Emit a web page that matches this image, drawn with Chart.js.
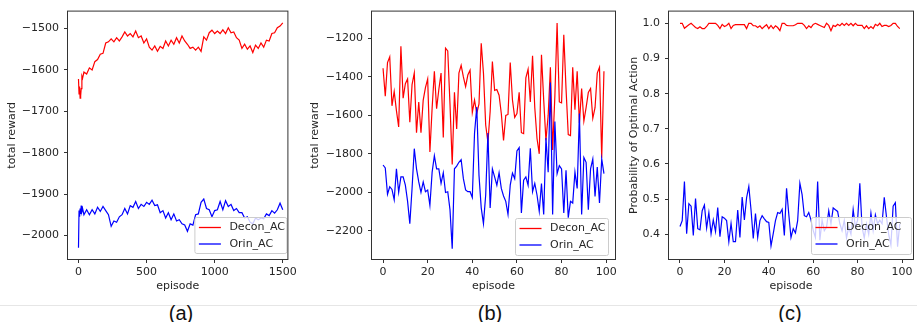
<!DOCTYPE html>
<html>
<head>
<meta charset="utf-8">
<script src="https://cdn.jsdelivr.net/npm/chart.js@4.4.0/dist/chart.umd.min.js"></script>
<style>
  html, body { margin: 0; padding: 0; background: #fff; }
  #wrap { position: relative; width: 917px; height: 322px; overflow: hidden; }
  canvas { position: absolute; top: 0; }
  .sep { position: absolute; left: 0; top: 305px; width: 917px; height: 1px; background: #e6e6e6; }
  .cap { position: absolute; top: 302px; width: 80px; margin-left: -40px; text-align: center;
         font: 20px "Liberation Sans", Arial, sans-serif; line-height: 22px; color: #111; }
</style>
</head>
<body>
<div id="wrap">
  <canvas id="chartA" width="300" height="300" style="left:0px"></canvas>
  <canvas id="chartB" width="317" height="300" style="left:303px"></canvas>
  <canvas id="chartC" width="295" height="300" style="left:622px"></canvas>
  <div class="sep"></div>
  <div class="cap" style="left:181px">(a)</div>
  <div class="cap" style="left:490px">(b)</div>
  <div class="cap" style="left:790px">(c)</div>
</div>
<script>
// ---- data ----
const seriesNames = ['Decon_AC', 'Orin_AC'];

// (a) episodes 0..1500, sampled
const episodesA = [0, 4, 8, 12, 16, 20, 25, 30, 40, 60, 80, 100, 120, 140, 160, 180, 200, 220, 240, 260, 280, 300,
    320, 340, 360, 380, 400, 420, 440, 460, 480, 500, 520, 540, 560, 580, 600, 620, 640, 660, 680, 700, 720, 740,
    760, 780, 800, 820, 840, 860, 880, 900, 920, 940, 960, 980, 1000, 1020, 1040, 1060, 1080, 1100, 1120, 1140,
    1160, 1180, 1200, 1220, 1240, 1260, 1280, 1300, 1320, 1340, 1360, 1380, 1400, 1420, 1440, 1460, 1480, 1500];
const deconA = [-1622, -1658, -1640, -1668, -1662, -1645, -1615, -1620, -1605, -1610, -1595, -1600, -1580, -1575,
    -1562, -1560, -1535, -1532, -1525, -1532, -1522, -1530, -1520, -1508, -1518, -1512, -1520, -1506, -1522, -1518,
    -1535, -1525, -1545, -1552, -1542, -1555, -1543, -1548, -1530, -1542, -1528, -1538, -1522, -1535, -1518, -1530,
    -1538, -1548, -1545, -1552, -1545, -1555, -1520, -1528, -1510, -1504, -1512, -1506, -1512, -1503, -1512, -1498,
    -1510, -1508, -1522, -1528, -1548, -1538, -1550, -1542, -1558, -1540, -1548, -1535, -1545, -1528, -1530, -1512,
    -1510, -1498, -1494, -1486];
const orinA = [-2030, -1940, -1955, -1935, -1948, -1928, -1942, -1935, -1950, -1938, -1950, -1938, -1948, -1932,
    -1942, -1930, -1940, -1950, -1978, -1965, -1968, -1955, -1950, -1935, -1948, -1928, -1932, -1918, -1935, -1925,
    -1930, -1920, -1925, -1915, -1928, -1926, -1945, -1940, -1958, -1945, -1962, -1948, -1965, -1962, -1972, -1975,
    -1990, -1972, -1975, -1950, -1948, -1920, -1912, -1935, -1938, -1955, -1940, -1938, -1918, -1938, -1916, -1930,
    -1925, -1940, -1935, -1945, -1945, -1958, -1955, -1968, -1972, -1958, -1962, -1958, -1960, -1948, -1952, -1940,
    -1946, -1938, -1922, -1938];

// (b) and (c) episodes 0..99
const episodes = [0, 1, 2, 3, 4, 5, 6, 7, 8, 9, 10, 11, 12, 13, 14, 15, 16, 17, 18, 19, 20, 21, 22, 23, 24, 25, 26,
    27, 28, 29, 30, 31, 32, 33, 34, 35, 36, 37, 38, 39, 40, 41, 42, 43, 44, 45, 46, 47, 48, 49, 50, 51, 52, 53, 54,
    55, 56, 57, 58, 59, 60, 61, 62, 63, 64, 65, 66, 67, 68, 69, 70, 71, 72, 73, 74, 75, 76, 77, 78, 79, 80, 81, 82,
    83, 84, 85, 86, 87, 88, 89, 90, 91, 92, 93, 94, 95, 96, 97, 98, 99];
const deconB = [-1355, -1500, -1325, -1295, -1550, -1475, -1575, -1660, -1240, -1510, -1435, -1410, -1635, -1440,
    -1380, -1690, -1530, -1690, -1520, -1455, -1410, -1790, -1560, -1370, -1565, -1465, -1380, -1715, -1250, -1265,
    -1540, -1855, -1480, -1670, -1380, -1340, -1400, -1450, -1390, -1365, -1585, -1520, -1590, -1540, -1225, -1380,
    -1650, -1740, -1580, -1320, -1470, -1465, -1495, -1590, -1730, -1600, -1595, -1325, -1520, -1610, -1590, -1480,
    -1690, -1695, -1405, -1360, -1530, -1290, -1560, -1720, -1800, -1285, -1520, -1730, -1600, -1350, -1780, -1500,
    -1120, -1530, -1535, -1180, -1460, -1700, -1705, -1350, -1570, -1370, -1640, -1460, -1630, -1560, -1480, -1460,
    -1615, -1560, -1380, -1350, -1820, -1370];
const orinB = [-1858, -1873, -2010, -1971, -1985, -2039, -1878, -2000, -1920, -1920, -1963, -2047, -2163, -1980,
    -1773, -1878, -1946, -2000, -1946, -1997, -1988, -2068, -1895, -1810, -1878, -1878, -1954, -1898, -2001, -1997,
    -2090, -2293, -1878, -1864, -1844, -1830, -1929, -1988, -1997, -1997, -2027, -1692, -1556, -1912, -2081, -2163,
    -2014, -1692, -2081, -1878, -1920, -1963, -1898, -1980, -2019, -2047, -2115, -1963, -1900, -1929, -1785, -1768,
    -2107, -1937, -1920, -1963, -1771, -1997, -1954, -2014, -2098, -1954, -2115, -1717, -1895, -1429, -2115, -1632,
    -1903, -1861, -1878, -2107, -1886, -2132, -2047, -2056, -1895, -1980, -1590, -2115, -1819, -1844, -2090, -1878,
    -1827, -2022, -1869, -2056, -1827, -1903];
const deconC = [1.0, 1.0, 0.986, 0.991, 0.996, 1.0, 0.994, 0.988, 0.985, 0.99, 0.985, 0.985, 0.991, 1.0, 1.0, 1.0,
    1.0, 0.994, 0.985, 0.997, 0.991, 0.994, 1.0, 0.985, 0.994, 0.996, 0.996, 0.996, 0.996, 0.996, 0.985, 1.0, 1.0,
    0.993, 0.993, 0.988, 0.993, 0.985, 0.991, 0.996, 0.985, 0.994, 0.985, 0.993, 0.988, 0.979, 1.0, 1.0, 0.994,
    0.993, 0.993, 0.993, 0.996, 1.0, 1.0, 1.0, 0.994, 0.985, 0.993, 0.988, 0.997, 1.0, 0.997, 0.994, 0.991, 0.988,
    1.0, 0.994, 0.979, 0.994, 0.991, 0.997, 0.993, 1.0, 0.994, 1.0, 0.994, 1.0, 0.993, 1.0, 0.994, 0.994, 0.994,
    0.985, 0.993, 0.985, 0.991, 0.985, 0.997, 0.993, 1.0, 0.991, 0.994, 0.994, 0.991, 0.994, 1.0, 1.0, 0.991, 0.985];
const orinC = [0.422, 0.439, 0.55, 0.402, 0.487, 0.48, 0.397, 0.502, 0.416, 0.413, 0.467, 0.483, 0.418, 0.462,
    0.402, 0.441, 0.408, 0.476, 0.393, 0.45, 0.446, 0.439, 0.379, 0.431, 0.379, 0.379, 0.469, 0.391, 0.506, 0.441,
    0.504, 0.536, 0.469, 0.388, 0.459, 0.391, 0.439, 0.453, 0.444, 0.436, 0.434, 0.367, 0.402, 0.439, 0.462, 0.459,
    0.471, 0.397, 0.531, 0.457, 0.391, 0.416, 0.404, 0.439, 0.545, 0.513, 0.453, 0.45, 0.462, 0.441, 0.411, 0.391,
    0.55, 0.383, 0.44, 0.41, 0.42, 0.467, 0.43, 0.475, 0.47, 0.465, 0.43, 0.41, 0.44, 0.39, 0.42, 0.4, 0.47, 0.42,
    0.44, 0.545, 0.42, 0.39, 0.43, 0.4, 0.46, 0.41, 0.455, 0.43, 0.44, 0.43, 0.505, 0.45, 0.4, 0.37, 0.48, 0.49,
    0.365, 0.43];

// tick labels
const xTicksA = [0, 500, 1000, 1500];
const yTicksA = [-2000, -1900, -1800, -1700, -1600, -1500];
const xTicksBC = [0, 20, 40, 60, 80, 100];
const yTicksB = [-2200, -2000, -1800, -1600, -1400, -1200];
const yTicksC = [0.4, 0.5, 0.6, 0.7, 0.8, 0.9, 1.0];

const FONT = 'DejaVu Sans';
const TXT = '#262626';
const AXIS = '#333333';
const RED = '#ff0000';
const BLUE = '#0000ff';

// box around the axes, like matplotlib spines
const frame = {
    id: 'frame',
    afterDraw(chart) {
        const a = chart.chartArea;
        const ctx = chart.ctx;
        ctx.save();
        ctx.strokeStyle = AXIS;
        ctx.lineWidth = 1;
        ctx.strokeRect(a.left - 0.5, a.top - 0.5, a.right - a.left + 1, a.bottom - a.top + 1);
        ctx.restore();
    }
};

// matplotlib style legend in the lower right corner
const boxLegend = {
    id: 'boxLegend',
    afterDatasetsDraw(chart, args, opts) {
        const a = chart.chartArea;
        const ctx = chart.ctx;
        const x = a.right - opts.right - opts.w;
        const y = a.bottom - opts.bottom - opts.h;
        ctx.save();
        ctx.beginPath();
        ctx.roundRect(x + 0.5, y + 0.5, opts.w, opts.h, 2);
        ctx.fillStyle = 'rgba(255,255,255,0.8)';
        ctx.fill();
        ctx.strokeStyle = '#cccccc';
        ctx.lineWidth = 1;
        ctx.stroke();
        ctx.font = '11px "' + FONT + '"';
        ctx.textBaseline = 'middle';
        seriesNames.forEach((name, i) => {
            const ly = y + 10.5 + i * 16.5;
            ctx.strokeStyle = i === 0 ? RED : BLUE;
            ctx.lineWidth = 1.3;
            ctx.beginPath();
            ctx.moveTo(x + 4.5, ly);
            ctx.lineTo(x + 26.5, ly);
            ctx.stroke();
            ctx.fillStyle = TXT;
            ctx.fillText(name, x + 35, ly);
        });
        ctx.restore();
    }
};

function toPoints(xs, ys) {
    return xs.map((x, i) => ({ x: x, y: ys[i] }));
}

function fmtMinus(v) {
    return String(v).replace('-', '\u2212');
}

function makePanel(canvasId, p) {
    return new Chart(document.getElementById(canvasId), {
        type: 'line',
        data: {
            datasets: [
                { label: seriesNames[0], data: toPoints(p.xs, p.red), borderColor: RED, borderWidth: 1.2,
                  pointRadius: 0, tension: 0, order: 1 },
                { label: seriesNames[1], data: toPoints(p.xs, p.blue), borderColor: BLUE, borderWidth: 1.2,
                  pointRadius: 0, tension: 0, order: 0 }
            ]
        },
        options: {
            responsive: false,
            animation: false,
            events: [],
            layout: { padding: { top: 6, right: p.padRight, bottom: 0, left: 0 } },
            scales: {
                x: {
                    type: 'linear',
                    min: p.xMin,
                    max: p.xMax,
                    afterBuildTicks: s => { s.ticks = p.xTicks.map(v => ({ value: v })); },
                    afterFit: s => { s.height = 41; },
                    border: { display: false },
                    grid: { drawOnChartArea: false, drawTicks: true, tickLength: 4, color: AXIS },
                    ticks: { color: TXT, padding: 3, maxRotation: 0, autoSkip: false,
                             font: { family: FONT, size: 11 }, callback: v => fmtMinus(v) },
                    title: { display: true, text: 'episode', color: TXT, padding: { top: 0, bottom: 7 },
                             font: { family: FONT, size: 11 } }
                },
                y: {
                    type: 'linear',
                    min: p.yMin,
                    max: p.yMax,
                    afterBuildTicks: s => { s.ticks = p.yTicks.map(v => ({ value: v })); },
                    afterFit: s => { s.width = p.yWidth; },
                    border: { display: false },
                    grid: { drawOnChartArea: false, drawTicks: true, tickLength: 4, color: AXIS },
                    ticks: { color: TXT, padding: 5, autoSkip: false,
                             font: { family: FONT, size: 11 }, callback: p.yFmt },
                    title: { display: true, text: p.yTitle, color: TXT, padding: { top: 6, bottom: 0 },
                             font: { family: FONT, size: 11 } }
                }
            },
            plugins: {
                legend: { display: false },
                tooltip: { enabled: false },
                boxLegend: p.legend
            }
        },
        plugins: [frame, boxLegend]
    });
}

makePanel('chartA', {
    xs: episodesA, red: deconA, blue: orinA,
    xMin: -77, xMax: 1534, yMin: -2057, yMax: -1459,
    xTicks: xTicksA, yTicks: yTicksA, yWidth: 68, padRight: 11,
    yTitle: 'total reward', yFmt: v => fmtMinus(v),
    legend: { w: 92, h: 36, right: 1, bottom: 6 }
});

makePanel('chartB', {
    xs: episodes, red: deconB, blue: orinB,
    xMin: -4.95, xMax: 103.95, yMin: -2347, yMax: -1060,
    xTicks: xTicksBC, yTicks: yTicksB, yWidth: 69, padRight: 5,
    yTitle: 'total reward', yFmt: v => fmtMinus(v),
    legend: { w: 93, h: 37, right: 7, bottom: 4 }
});

makePanel('chartC', {
    xs: episodes, red: deconC, blue: orinC,
    xMin: -4.95, xMax: 104.95, yMin: 0.3298, yMax: 1.0333,
    xTicks: xTicksBC, yTicks: yTicksC, yWidth: 47, padRight: 4,
    yTitle: 'Probability of Optimal Action', yFmt: v => v.toFixed(1),
    legend: { w: 100, h: 37, right: 2, bottom: 5 }
});
</script>
</body>
</html>
